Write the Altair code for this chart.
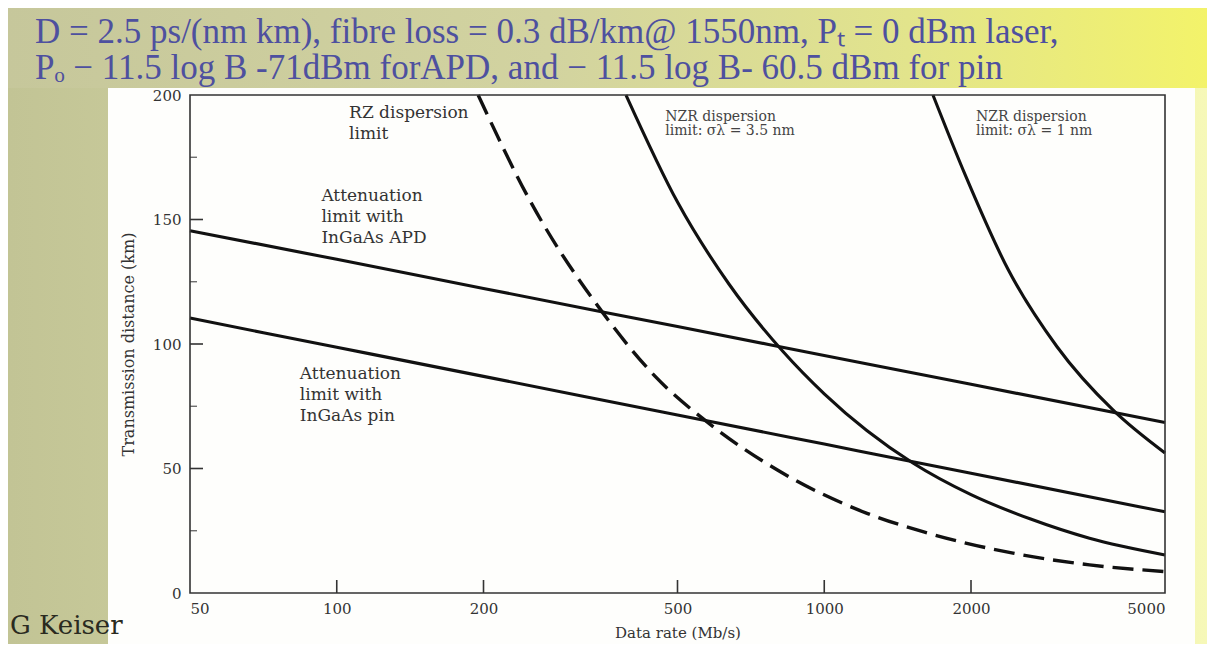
import altair as alt
import pandas as pd

# ---------------- data ----------------
rate_ticks = [50, 100, 200, 500, 1000, 2000, 5000]
dist_ticks = [0, 50, 100, 150, 200]
x_inner_ticks = [100, 200, 500, 1000, 2000]
y_major_inner = [50, 100, 150]
y_minor_inner = [25, 75, 125, 175]

apd_B = [50, 100, 200, 500, 1000, 2000, 5000]
apd_km = [145.5, 134, 122.3, 107, 95.4, 83.8, 68.5]
pin_B = [50, 100, 200, 500, 1000, 2000, 5000]
pin_km = [110.4, 98.7, 87, 71.5, 59.8, 48.1, 32.6]
rz_B = [195, 250, 350, 450, 575, 800, 1224, 1600, 2439, 3500, 5000]
rz_km = [200, 157, 113, 87, 68.7, 49.5, 32, 24.5, 16, 11.3, 8.6]
nzr35_B = [392, 500, 638, 823, 1000, 1520, 2000, 2642, 3500, 5000]
nzr35_km = [200, 157, 124, 97, 80, 52.2, 39.5, 29.8, 22, 15.3]
nzr1_B = [1671, 1945, 2382, 3000, 3910, 5000]
nzr1_km = [200, 168, 130, 99, 73.5, 56.2]

big_labels = ["RZ dispersion\nlimit",
              "Attenuation\nlimit with\nInGaAs APD",
              "Attenuation\nlimit with\nInGaAs pin"]
big_label_B = [106, 93, 84]
big_label_km = [196, 162.5, 91]

small_labels = ["NZR dispersion\nlimit: σλ = 3.5 nm",
                "NZR dispersion\nlimit: σλ = 1 nm"]
small_label_B = [472, 2048]
small_label_km = [194, 194]

title_lines = ["D = 2.5 ps/(nm km), fibre loss = 0.3 dB/km@ 1550nm, Pₜ = 0 dBm laser,",
               "Pₒ − 11.5 log B -71dBm forAPD, and  − 11.5 log B- 60.5 dBm for pin"]
credit = "G Keiser"

# ---------------- tables ----------------
def series(name, xs, ys):
    return pd.DataFrame({"series": name, "B": xs, "km": ys})

solid = pd.concat([
    series("APD", apd_B, apd_km),
    series("pin", pin_B, pin_km),
    series("NZR 3.5 nm", nzr35_B, nzr35_km),
    series("NZR 1 nm", nzr1_B, nzr1_km),
])
dashed = series("RZ", rz_B, rz_km)

W, H = 975, 498
PAD_L, PAD_T, PAD_R, PAD_B = 182, 87, 42, 51
SERIF = "DejaVu Serif"

xscale = alt.Scale(type="log", domain=[50, 5000], nice=False)
yscale = alt.Scale(domain=[0, 200], nice=False)

one = pd.DataFrame({"k": [0]})

bg = alt.Chart(one).mark_rect(
    color=alt.LinearGradient(
        gradient="linear", x1=0, x2=1, y1=0, y2=0,
        stops=[alt.GradientStop(color="#c2c495", offset=0),
               alt.GradientStop(color="#d6d8a6", offset=0.45),
               alt.GradientStop(color="#eceea0", offset=0.8),
               alt.GradientStop(color="#f6f8b8", offset=1)])
).encode(x=alt.value(-PAD_L), x2=alt.value(W + PAD_R), y=alt.value(-PAD_T), y2=alt.value(H + PAD_B))

band = alt.Chart(one).mark_rect(
    color=alt.LinearGradient(
        gradient="linear", x1=0, x2=1, y1=0, y2=0,
        stops=[alt.GradientStop(color="#c6c79b", offset=0),
               alt.GradientStop(color="#d2d3a0", offset=0.45),
               alt.GradientStop(color="#e2e48c", offset=0.75),
               alt.GradientStop(color="#f3f36a", offset=1)])
).encode(x=alt.value(-PAD_L), x2=alt.value(W + PAD_R), y=alt.value(-PAD_T), y2=alt.value(-7))

panel = alt.Chart(one).mark_rect(color="#fefefc").encode(
    x=alt.value(-82), x2=alt.value(1005), y=alt.value(-7), y2=alt.value(H + PAD_B))

xaxis = alt.Axis(values=rate_ticks, format="d", ticks=False, domain=False, grid=False,
                 labelFont=SERIF, labelFontSize=15, labelColor="#333", labelPadding=8,
                 title="Data rate (Mb/s)", titleFont=SERIF, titleFontSize=15,
                 titleFontWeight="normal", titleColor="#333", titleY=39,
                 titleBaseline="middle", zindex=1)
yaxis = alt.Axis(values=dist_ticks, format="d", ticks=False, domain=False, grid=False,
                 labelFont=SERIF, labelFontSize=15, labelColor="#333", labelPadding=9,
                 title="Transmission distance (km)", titleFont=SERIF, titleFontSize=16,
                 titleFontWeight="normal", titleColor="#333", titleX=-62, titleY=H / 2,
                 titleAngle=-90, titleAlign="center", titleBaseline="middle", zindex=1)

lines_solid = alt.Chart(solid).mark_line(
    color="#111", strokeWidth=3.1, interpolate="monotone"
).encode(
    x=alt.X("B:Q", scale=xscale, axis=xaxis),
    y=alt.Y("km:Q", scale=yscale, axis=yaxis),
    detail="series:N",
)

lines_dash = alt.Chart(dashed).mark_line(
    color="#111", strokeWidth=3.4, strokeDash=[21, 9], interpolate="monotone"
).encode(x=alt.X("B:Q", scale=xscale), y=alt.Y("km:Q", scale=yscale))

xt = alt.Chart(pd.DataFrame({"B": x_inner_ticks})).mark_rule(color="#333", strokeWidth=1.6).encode(
    x=alt.X("B:Q", scale=xscale), y=alt.value(H), y2=alt.value(H - 13))
ytm = alt.Chart(pd.DataFrame({"km": y_major_inner})).mark_rule(color="#333", strokeWidth=1.6).encode(
    y=alt.Y("km:Q", scale=yscale), x=alt.value(0), x2=alt.value(13))
ytn = alt.Chart(pd.DataFrame({"km": y_minor_inner})).mark_rule(color="#555", strokeWidth=1.2).encode(
    y=alt.Y("km:Q", scale=yscale), x=alt.value(0), x2=alt.value(7))

frame = alt.Chart(one).mark_rect(filled=False, stroke="#333", strokeWidth=1.6).encode(
    x=alt.value(0), x2=alt.value(W), y=alt.value(0), y2=alt.value(H))

big_txt = alt.Chart(pd.DataFrame({"label": big_labels, "B": big_label_B, "km": big_label_km})).mark_text(
    align="left", baseline="top", lineBreak="\n", font=SERIF, fontSize=17, lineHeight=21, color="#333"
).encode(x=alt.X("B:Q", scale=xscale), y=alt.Y("km:Q", scale=yscale), text="label:N")

small_txt = alt.Chart(pd.DataFrame({"label": small_labels, "B": small_label_B, "km": small_label_km})).mark_text(
    align="left", baseline="top", lineBreak="\n", font=SERIF, fontSize=14, lineHeight=14.5, color="#444"
).encode(x=alt.X("B:Q", scale=xscale), y=alt.Y("km:Q", scale=yscale), text="label:N")

title1 = alt.Chart(one).mark_text(
    align="left", baseline="middle", font="Liberation Serif", fontSize=35, color="#4e509f"
).encode(x=alt.value(-155), y=alt.value(-63), text=alt.value(title_lines[0]))
title2 = alt.Chart(one).mark_text(
    align="left", baseline="middle", font="Liberation Serif", fontSize=35, color="#4e509f"
).encode(x=alt.value(-155), y=alt.value(-27), text=alt.value(title_lines[1]))

credit_txt = alt.Chart(one).mark_text(
    align="left", baseline="middle", font=SERIF, fontSize=26, color="#2a2a20"
).encode(x=alt.value(-180), y=alt.value(531), text=alt.value(credit))

chart = alt.layer(
    bg, band, panel, lines_solid, lines_dash, xt, ytm, ytn, frame,
    big_txt, small_txt, title1, title2, credit_txt
).properties(
    width=W, height=H,
    padding={"left": PAD_L, "top": PAD_T, "right": PAD_R, "bottom": PAD_B},
    autosize=alt.AutoSizeParams(type="none"),
).configure_view(stroke=None)

chart.save("out.html", embed_options={"renderer": "svg", "actions": False})
